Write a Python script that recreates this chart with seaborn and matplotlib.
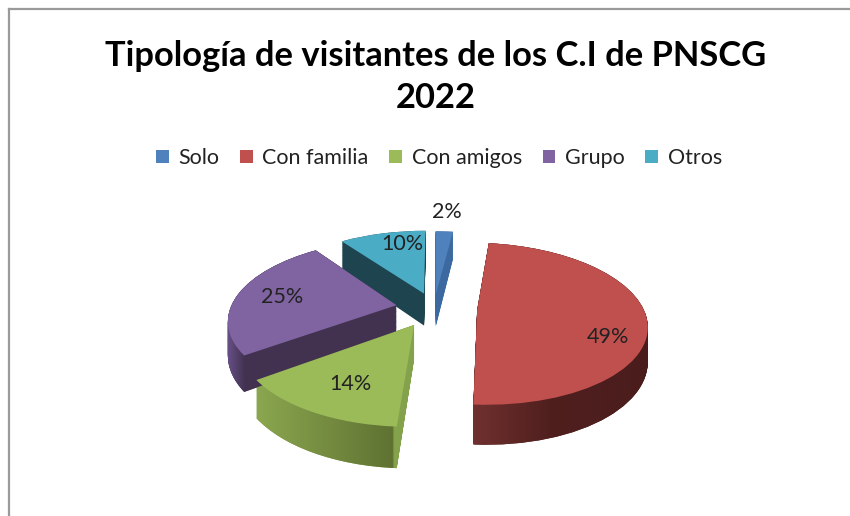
import numpy as np
import seaborn as sns
import matplotlib.pyplot as plt
from matplotlib.colors import LinearSegmentedColormap
from matplotlib.path import Path
from matplotlib.transforms import IdentityTransform, Transform

categories = ['Solo', 'Con familia', 'Con amigos', 'Grupo', 'Otros']
values = [2, 49, 14, 25, 10]
title = 'Tipología de visitantes de los C.I de PNSCG\n2022'

top_colors = ['#4F81BD', '#C0504D', '#9BBB59', '#8064A2', '#4BACC6']
side_colors = ['#3C6AA0', '#4F1F1E', '#82A04B', '#423250', '#1E4450']
explode = [0.18, 0.26, 0.24, 0.23, 0.20]
label_dist = [1.38, 0.80, 0.70, 0.72, 0.78]
label_turn = [0, -19, 2, 0, -6]

# fake 3d look: pie centre in pixels, radii, perspective and wall height
center_x, center_y = 434, 308
radius_x, radius_y = 166, 78
tilt = 0.17
wall = 33

sns.set_theme(style='white')
plt.rcParams['font.family'] = ['Lato', 'DejaVu Sans']


class TiltTransform(Transform):
    input_dims = 2
    output_dims = 2

    def __init__(self, z):
        super().__init__()
        self.z = z

    def transform_non_affine(self, xy):
        xy = np.asarray(xy)
        w = 1 / (1 + tilt * xy[:, 1])
        return np.column_stack([center_x + radius_x * xy[:, 0] * w,
                                center_y - radius_y * xy[:, 1] * w + wall * self.z * w])


fig = plt.figure(figsize=(8.5, 5.16), dpi=100)
ax = fig.add_axes([9 / 850, 0, 841 / 850, 507 / 516])

# walls are a stack of pies going down, the top face comes last
side_paths = [[] for _ in values]
for z in np.linspace(1, 0, 40):
    wedges, _ = ax.pie(values, colors=side_colors, explode=explode, startangle=90,
                       counterclock=False, wedgeprops={'linewidth': 0})
    for i, wedge in enumerate(wedges):
        wedge.set_transform(TiltTransform(z) + ax.transData)
        wedge.set_zorder(1)
        side_paths[i].append(wedge)

top_wedges, _, pct_texts = ax.pie(values, colors=top_colors, explode=explode, startangle=90,
                                  counterclock=False, autopct='%.0f%%',
                                  wedgeprops={'linewidth': 0})
top_transform = TiltTransform(0) + ax.transData
for wedge, text, dist, turn in zip(top_wedges, pct_texts, label_dist, label_turn):
    wedge.set_transform(top_transform)
    wedge.set_zorder(3)
    mid = np.deg2rad((wedge.theta1 + wedge.theta2) / 2 + turn)
    text.set_position((wedge.center[0] + dist * np.cos(mid), wedge.center[1] + dist * np.sin(mid)))
    text.set_transform(top_transform)
    text.set(fontsize=15.5, color='#222222', zorder=4)

ax.set_frame_on(True)
ax.set_aspect('auto')
ax.set_xlim(9, 850)
ax.set_ylim(516, 9)

# shading along the curved walls
shades = {
    1: (468, 652, [(0, '#723230'), (0.45, '#4F1F1E'), (1, '#4A1D1C')]),
    2: (253, 418, [(0, '#8CA850'), (0.85, '#5F7232'), (0.855, '#84A24C'), (1, '#84A24C')]),
    3: (224, 400, [(0, '#6E5590'), (0.12, '#423250'), (1, '#423250')]),
}
for i, (x0, x1, stops) in shades.items():
    paths = [w.get_transform().transform_path(w.get_path()) for w in side_paths[i]]
    cmap = LinearSegmentedColormap.from_list(f'shade{i}', stops)
    im = ax.imshow(np.linspace(0, 1, 256)[None, :], cmap=cmap, extent=[x0, x1, 516, 9],
                   aspect='auto', zorder=2)
    im.set_clip_path(Path.make_compound_path(*paths), IdentityTransform())
ax.set_xlim(9, 850)
ax.set_ylim(516, 9)

fig.text(436 / 850, 1 - 77 / 516, title, ha='center', va='center', fontsize=24.8,
         fontweight='bold', color='black', linespacing=1.38)

ax.legend(top_wedges, categories, ncol=5, loc='center', frameon=False, fontsize=15.5,
          bbox_to_anchor=(439 / 850, 1 - 158 / 516), bbox_transform=fig.transFigure,
          handlelength=0.6, handleheight=0.6, handletextpad=0.45, columnspacing=0.95,
          labelcolor='#222222')

sns.despine(ax=ax, right=True, bottom=True, top=False, left=False)
for side in ['left', 'top']:
    ax.spines[side].set_color('#9A9A9A')
    ax.spines[side].set_linewidth(1.6)
ax.set_xticks([])
ax.set_yticks([])

fig.savefig('out.png', dpi=100)
